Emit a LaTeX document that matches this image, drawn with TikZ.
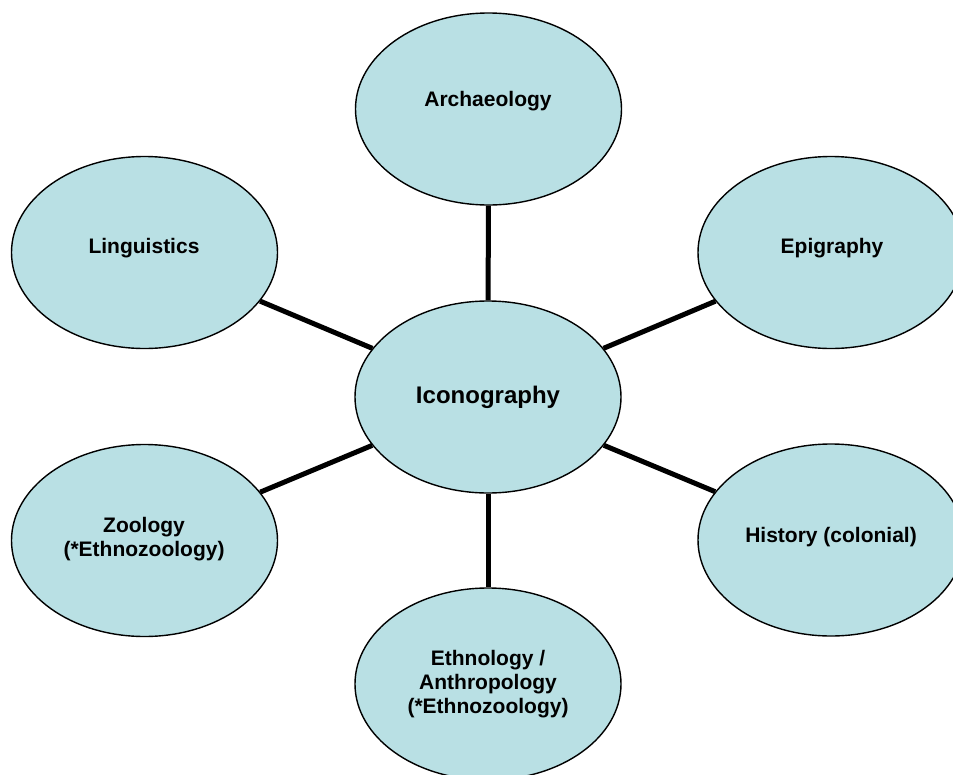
\documentclass[tikz,border=0pt]{standalone}
\usepackage{fontspec}
\setmainfont{Liberation Sans}
\usetikzlibrary{shapes.geometric}
\definecolor{bubble}{RGB}{185,224,228}
\begin{document}
\begin{tikzpicture}[x=1pt,y=-1pt,
  bubble/.style={ellipse, draw=black, line width=1.4pt, fill=bubble,
    minimum width=266pt, minimum height=192pt, inner sep=0pt},
  lbl/.style={font=\fontsize{21}{24}\selectfont\bfseries, align=center, inner sep=0pt},
  link/.style={line width=5pt, black}]
\useasboundingbox (0,0) rectangle (953,774);
\clip (0,0) rectangle (953,774);
\node[bubble] (ico) at (488,397) {};
\node[bubble] (arc) at (488.5,109) {};
\node[bubble] (lin) at (144.5,252.5) {};
\node[bubble] (epi) at (831,252.5) {};
\node[bubble] (his) at (831,540) {};
\node[bubble] (zoo) at (144.5,540.5) {};
\node[bubble] (eth) at (488,684) {};
\draw[link] (ico) -- (arc);
\draw[link] (ico) -- (lin);
\draw[link] (ico) -- (epi);
\draw[link] (ico) -- (his);
\draw[link] (ico) -- (zoo);
\draw[link] (ico) -- (eth);
\node[lbl, font=\fontsize{24}{28}\selectfont\bfseries] (icot) at (488,397) {Iconography};
\node[lbl] (arct) at (488,101) {Archaeology};
\node[lbl] (lint) at (144,248) {Linguistics};
\node[lbl] (epit) at (832,248) {Epigraphy};
\node[lbl] (hist) at (831,537) {History (colonial)};
\node[lbl] (zoot) at (144,539) {Zoology\\(*Ethnozoology)};
\node[lbl] (etht) at (488,684) {Ethnology /\\Anthropology\\(*Ethnozoology)};
\end{tikzpicture}
\end{document}
